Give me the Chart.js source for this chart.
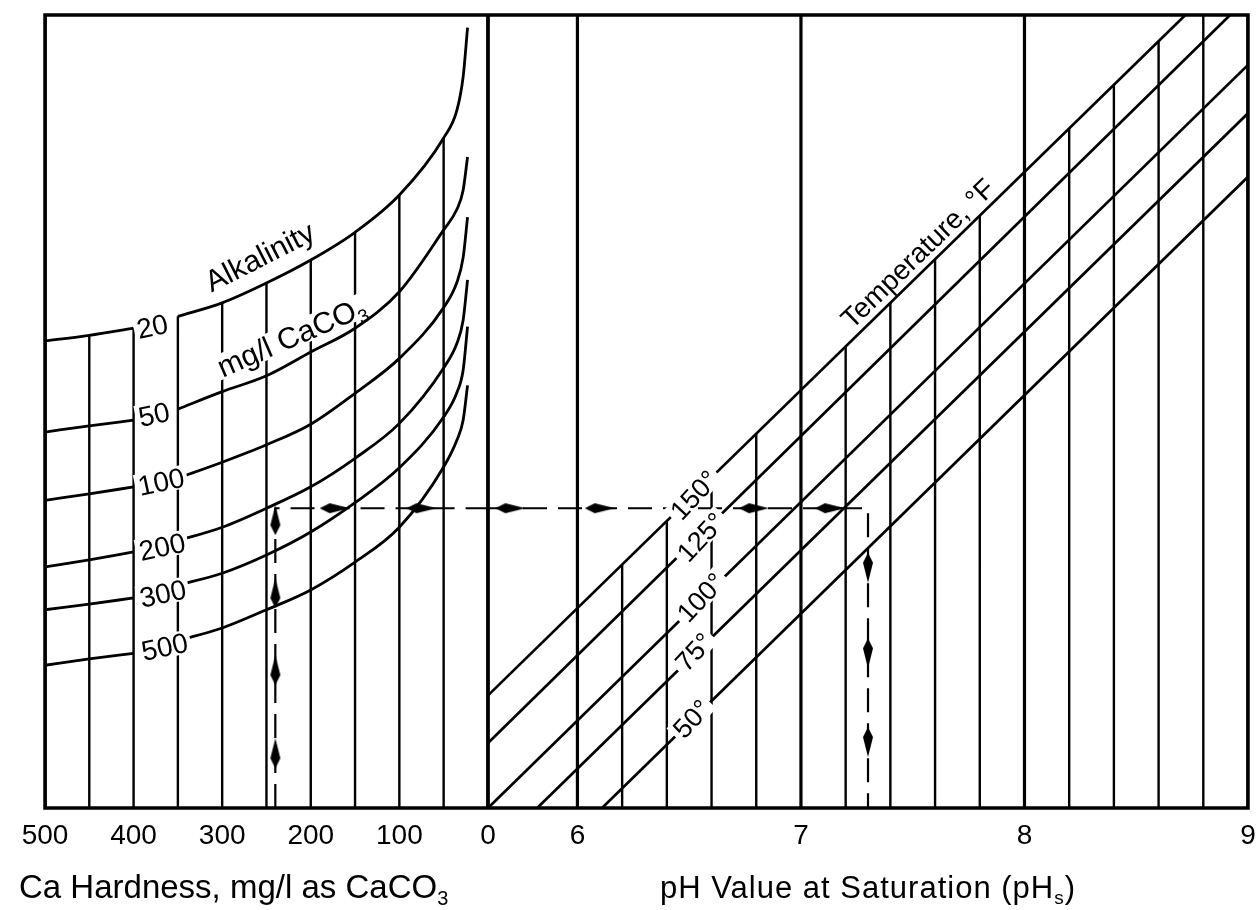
<!DOCTYPE html>
<html>
<head>
<meta charset="utf-8">
<title>Calcium carbonate saturation nomograph</title>
<script src="https://cdn.jsdelivr.net/npm/chart.js@4.4.1/dist/chart.umd.min.js"></script>
<style>
  html, body { margin: 0; padding: 0; background: #fff; }
  #box { width: 1258px; height: 910px; }
</style>
</head>
<body>
<div id="box"><canvas id="chart"></canvas></div>
<script>
// values read off the nomograph. y is a plain height scale:
// 0 = bottom of the frame, 100 = top of the frame

var hardTicks = [500, 400, 300, 200, 100, 0];
var phTicks = [6, 7, 8, 9];

// alkalinity curves (mg/l CaCO3), height read at each hardness value
var alkNames = ['20', '50', '100', '200', '300', '500'];
var alkHard = [500, 450, 400, 350, 300, 250, 200, 150, 100, 50, 35, 28, 23];
var alk20  = [58.9, 59.6, 60.5, 62.0, 63.7, 66.2, 69.1, 72.6, 77.3, 84.5, 88.0, 92.2, 98.4];
var alk50  = [47.4, 48.2, 48.9, 50.3, 52.5, 54.5, 57.5, 60.5, 65.1, 72.9, 75.5, 77.9, 82.1];
var alk100 = [38.8, 39.6, 40.5, 41.6, 43.6, 45.8, 48.4, 52.3, 56.7, 63.1, 66.3, 69.4, 74.5];
var alk200 = [30.4, 31.3, 32.3, 33.7, 35.4, 37.8, 40.5, 44.1, 48.5, 55.5, 58.6, 61.5, 66.6];
var alk300 = [25.0, 25.7, 26.5, 28.1, 29.6, 31.9, 34.8, 38.5, 42.9, 49.3, 52.4, 55.2, 60.7];
var alk500 = [18.0, 18.8, 19.5, 21.1, 22.7, 25.0, 27.5, 31.0, 35.4, 43.0, 46.4, 48.9, 53.3];

// grid: hardness lines stop at the 20 curve, pH lines at the 150 deg line
var hardGrid = [450, 400, 350, 300, 250, 200, 150, 100, 50];
var hardFull = [500, 0];
var phFull = [5.6, 6, 7, 8, 9];
var phGrid    = [6.2, 6.4, 6.6, 6.8, 7.2, 7.4, 7.6, 7.8, 8.2, 8.4, 8.6, 8.8];
var phGridTop = [30.7, 36.2, 41.7, 47.2, 58.2, 63.7, 69.2, 74.7, 85.7, 91.2, 96.7, 100];

// temperature lines (deg F), start and end points
var tempNames  = ['150°', '125°', '100°', '75°', '50°'];
var tempFromPh = [5.6, 5.6, 5.6, 5.82, 6.11];
var tempFromY  = [14.2, 8.2, 0, 0, 0];
var tempToPh   = [8.72, 8.92, 9, 9, 9];
var tempToY    = [100, 100, 93.7, 87.6, 79.6];

// worked example (dashed path with arrows)
var exHard = 240, exPh = 7.3, exLevel = 37.8;
var exUp = [36.3, 27.1, 17.4, 6.9];
var exRightHard = [173, 75];
var exRightPh = [5.7, 6.1, 6.79, 7.13];
var exDown = [30.3, 19.5, 8.3];

// ----------------------------------------------------------------------
var INK = '#000';
var FONT = '"Liberation Sans", Arial, Helvetica, sans-serif';

function vlines(xs, tops) {
  var pts = [];
  xs.forEach(function (x, i) {
    pts.push({x: x, y: 0}, {x: x, y: tops[i]}, {x: x, y: null});
  });
  return pts;
}

function curvePts(vals) {
  var pts = alkHard.map(function (h, i) { return {x: h, y: vals[i]}; });
  pts.splice(3, 0, {x: 375, y: null}); // gap for the value label
  return pts;
}

// arrowhead, pointing up; rotated per dataset
var arrowImg = document.createElement('canvas');
arrowImg.width = 12; arrowImg.height = 30;
(function () {
  var g = arrowImg.getContext('2d');
  g.fillStyle = INK;
  g.beginPath();
  g.moveTo(6, 0); g.lineTo(11, 20); g.lineTo(6, 30); g.lineTo(1, 20);
  g.closePath(); g.fill();
})();

var datasets = [];

function addLine(axis, data, width, extra) {
  var ds = {
    type: 'line', xAxisID: axis, yAxisID: 'y', data: data,
    borderColor: INK, borderWidth: width, pointRadius: 0,
    spanGaps: false, fill: false
  };
  Object.assign(ds, extra || {});
  datasets.push(ds);
}

function addArrows(axis, data, rot) {
  datasets.push({
    type: 'line', xAxisID: axis, yAxisID: 'y', data: data, showLine: false,
    pointStyle: arrowImg, pointRadius: 5, pointRotation: rot
  });
}

// grid lines
addLine('xH', vlines(hardGrid, hardGrid.map(function (h) { return alk20[alkHard.indexOf(h)]; })), 2.4);
addLine('xH', vlines(hardFull, hardFull.map(function () { return 100; })), 3.5);
addLine('xP', vlines(phGrid, phGridTop), 2.4);
addLine('xP', vlines(phFull, phFull.map(function () { return 100; })), 3.2);

// alkalinity curves
[alk20, alk50, alk100, alk200, alk300, alk500].forEach(function (vals) {
  addLine('xH', curvePts(vals), 2.8, {cubicInterpolationMode: 'monotone'});
});

// temperature lines
tempNames.forEach(function (n, i) {
  addLine('xP', [{x: tempFromPh[i], y: tempFromY[i]}, {x: tempToPh[i], y: tempToY[i]}], 2.7);
});

// example path
addLine('xH', [{x: exHard, y: 0}, {x: exHard, y: exLevel}, {x: 0, y: exLevel}], 2.2, {borderDash: [24, 11]});
addLine('xP', [{x: 5.6, y: exLevel}, {x: exPh, y: exLevel}, {x: exPh, y: 0}], 2.2, {borderDash: [24, 11]});
addArrows('xH', exUp.map(function (v) { return {x: exHard, y: v}; }), 0);
addArrows('xH', exRightHard.map(function (v) { return {x: v, y: exLevel}; }), 90);
addArrows('xP', exRightPh.map(function (v) { return {x: v, y: exLevel}; }), 90);
addArrows('xP', exDown.map(function (v) { return {x: exPh, y: v}; }), 180);

// text placement (data coordinates), rotation in degrees
var curveLabelAt = [[379, 60.8], [377, 49.7], [369, 41.2], [368, 33.0], [367, 27.1], [365, 20.4]];
var tempLabelAt = [[6.52, 39.5], [6.55, 34.2], [6.55, 26.6], [6.52, 19.7], [6.51, 11.3]];

function drawRich(ctx, parts, x, y, deg, size, box, align, spacing) {
  ctx.save();
  ctx.translate(x, y);
  ctx.rotate(deg * Math.PI / 180);
  ctx.textBaseline = 'alphabetic';
  ctx.textAlign = 'left';
  if (spacing) ctx.letterSpacing = spacing + 'px';
  var w = 0;
  parts.forEach(function (p) {
    ctx.font = (p.sub ? Math.round(size * 0.62) : size) + 'px ' + FONT;
    p.w = ctx.measureText(p.t).width;
    w += p.w;
  });
  var x0 = align === 'left' ? 0 : -w / 2;
  var base = align === 'left' ? 0 : size * 0.36;
  if (box) {
    ctx.fillStyle = '#fff';
    ctx.fillRect(x0 - box, base - size * 0.78, w + 2 * box, size * 0.84);
  }
  ctx.fillStyle = INK;
  parts.forEach(function (p) {
    ctx.font = (p.sub ? Math.round(size * 0.62) : size) + 'px ' + FONT;
    ctx.fillText(p.t, x0, base + (p.sub ? size * 0.2 : 0));
    x0 += p.w;
  });
  ctx.restore();
}

var nomoText = {
  id: 'nomoText',
  afterDatasetsDraw: function (chart) {
    var ctx = chart.ctx, a = chart.chartArea, s = chart.scales;
    var xH = s.xH, xP = s.xP, y = s.y;

    ctx.save();
    ctx.strokeStyle = INK;
    ctx.lineWidth = 3.5;
    ctx.strokeRect(a.left, a.top, a.right - a.left, a.bottom - a.top);
    ctx.restore();

    alkNames.forEach(function (n, i) {
      var p = curveLabelAt[i];
      drawRich(ctx, [{t: n}], xH.getPixelForValue(p[0]), y.getPixelForValue(p[1]), -12, 28, 3);
    });
    drawRich(ctx, [{t: 'Alkalinity'}], xH.getPixelForValue(258), y.getPixelForValue(69.6), -27, 30, 0);
    drawRich(ctx, [{t: 'mg/l CaCO'}, {t: '3', sub: true}], xH.getPixelForValue(222), y.getPixelForValue(59.5), -23.5, 30, 3);
    drawRich(ctx, [{t: 'Temperature, °F'}], xP.getPixelForValue(7.52), y.getPixelForValue(70.0), -44, 28, 0);
    tempNames.forEach(function (n, i) {
      var p = tempLabelAt[i];
      drawRich(ctx, [{t: n}], xP.getPixelForValue(p[0]), y.getPixelForValue(p[1]), -47, 27, 4);
    });

    // tick labels
    ctx.save();
    ctx.fillStyle = INK;
    ctx.font = '28px ' + FONT;
    ctx.textAlign = 'center';
    ctx.textBaseline = 'alphabetic';
    hardTicks.forEach(function (v) { ctx.fillText(String(v), xH.getPixelForValue(v), a.bottom + 36); });
    phTicks.forEach(function (v) { ctx.fillText(String(v), xP.getPixelForValue(v), a.bottom + 36); });
    ctx.restore();

    // axis titles
    drawRich(ctx, [{t: 'Ca Hardness, mg/l as CaCO'}, {t: '3', sub: true}], 19, a.bottom + 90, 0, 33, 0, 'left');
    drawRich(ctx, [{t: 'pH Value at Saturation (pH'}, {t: 's', sub: true}, {t: ')'}], 660, a.bottom + 90, 0, 31, 0, 'left', 1);
  }
};

new Chart(document.getElementById('chart'), {
  type: 'line',
  data: {datasets: datasets},
  options: {
    responsive: true,
    maintainAspectRatio: false,
    animation: false,
    events: [],
    layout: {padding: {left: 45, right: 10, top: 15, bottom: 102}},
    plugins: {legend: {display: false}, tooltip: {enabled: false}},
    scales: {
      // hardness 500..0 fills the left 443 px, pH 5.6..9 the right 760 px
      xH: {type: 'linear', display: false, reverse: true, min: -858, max: 500},
      xP: {type: 'linear', display: false, min: 3.618, max: 9},
      y: {type: 'linear', display: false, min: 0, max: 100}
    }
  },
  plugins: [nomoText]
});
</script>
</body>
</html>
